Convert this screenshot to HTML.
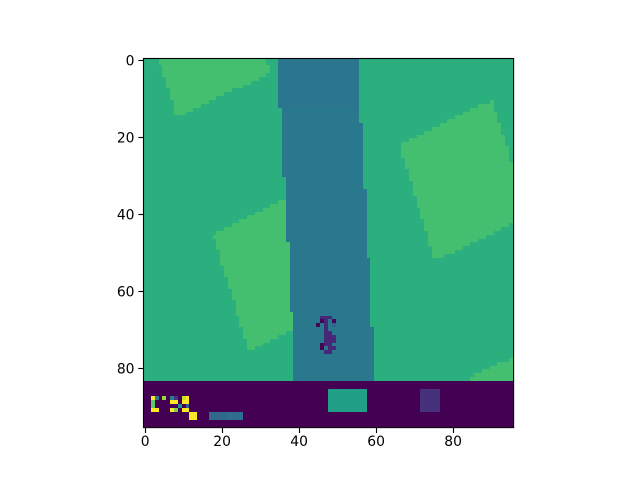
<!DOCTYPE html>
<html lang="en">
<head>
<meta charset="utf-8">
<title>Image heatmap</title>
<style>
html,body{margin:0;padding:0;background:#fff;width:640px;height:480px;overflow:hidden}
svg{display:block}
text{font-family:"DejaVu Sans","Liberation Sans",sans-serif;font-size:13.89px;fill:#000}
</style>
</head>
<body>
<svg id="chart" width="640" height="480" viewBox="0 0 640 480" xmlns="http://www.w3.org/2000/svg"></svg>
<script>
const xTickLabels = [0, 20, 40, 60, 80];
const yTickLabels = [0, 20, 40, 60, 80];
const gridSize = [96, 96];
// Each row: value, run length, value, run length ... (values on a 0-100 scale)
const imageRows = [
[63,4,70,28,63,3,39,21,63,40],
[63,4,70,28,63,3,39,21,63,40],
[63,5,70,28,63,2,39,21,63,40],
[63,5,70,28,63,2,39,21,63,40],
[63,5,70,27,63,3,39,21,63,40],
[63,6,70,24,63,5,39,21,63,40],
[63,6,70,22,63,7,39,21,63,40],
[63,6,70,20,63,9,39,21,63,40],
[63,7,70,16,63,12,39,21,63,40],
[63,7,70,14,63,14,39,21,63,40],
[63,7,70,12,63,16,39,21,63,40],
[63,8,70,9,63,18,39,21,63,34,70,1,63,5],
[63,8,70,7,63,20,39,21,63,31,70,4,63,5],
[63,8,70,5,63,23,40,20,63,29,70,6,63,5],
[63,8,70,3,63,25,40,20,63,27,70,9,63,4],
[63,36,40,20,63,25,70,11,63,4],
[63,36,40,20,63,23,70,13,63,4],
[63,36,40,21,63,20,70,16,63,3],
[63,36,40,21,63,18,70,18,63,3],
[63,36,40,21,63,16,70,20,63,3],
[63,36,40,21,63,14,70,23,63,2],
[63,36,40,21,63,12,70,25,63,2],
[63,36,40,21,63,10,70,27,63,2],
[63,36,40,21,63,10,70,28,63,1],
[63,36,40,21,63,10,70,28,63,1],
[63,36,40,21,63,10,70,28,63,1],
[63,36,40,21,63,11,70,27,63,1],
[63,36,40,21,63,11,70,28],
[63,36,40,21,63,11,70,28],
[63,36,40,21,63,12,70,27],
[63,36,40,21,63,12,70,27],
[63,37,40,20,63,12,70,27],
[63,37,40,20,63,13,70,26],
[63,37,40,20,63,13,70,26],
[63,37,40,21,63,12,70,26],
[63,37,40,21,63,12,70,26],
[63,37,40,21,63,13,70,25],
[63,35,70,2,40,21,63,13,70,25],
[63,33,70,4,40,21,63,13,70,25],
[63,31,70,6,40,21,63,14,70,24],
[63,29,70,8,40,21,63,14,70,24],
[63,27,70,10,40,21,63,14,70,24],
[63,25,70,12,40,21,63,15,70,23],
[63,23,70,14,40,21,63,15,70,22,63,1],
[63,21,70,16,40,21,63,15,70,20,63,3],
[63,19,70,18,40,21,63,16,70,17,63,5],
[63,18,70,19,40,21,63,16,70,15,63,7],
[63,19,70,18,40,21,63,16,70,13,63,9],
[63,19,70,19,40,20,63,16,70,11,63,11],
[63,19,70,19,40,20,63,17,70,8,63,13],
[63,20,70,18,40,20,63,17,70,6,63,15],
[63,20,70,18,40,20,63,17,70,3,63,18],
[63,20,70,18,40,21,63,37],
[63,20,70,18,40,21,63,37],
[63,21,70,17,40,21,63,37],
[63,21,70,17,40,21,63,37],
[63,21,70,17,40,21,63,37],
[63,22,70,16,40,21,63,37],
[63,22,70,16,40,21,63,37],
[63,22,70,16,40,21,63,37],
[63,23,70,15,40,21,63,37],
[63,23,70,15,40,21,63,37],
[63,23,70,15,40,21,63,37],
[63,24,70,14,40,21,63,37],
[63,24,70,14,40,21,63,37],
[63,24,70,14,40,21,63,37],
[63,24,70,15,40,20,63,37],
[63,25,70,14,40,7,11,3,40,10,63,37],
[63,25,70,14,40,7,1,1,11,1,40,1,1,1,40,9,63,37],
[63,25,70,14,40,6,1,1,40,1,11,1,40,1,31,1,40,9,63,37],
[63,26,70,13,40,8,11,1,40,12,63,36],
[63,26,70,11,63,2,40,8,11,2,40,11,63,36],
[63,26,70,9,63,4,40,8,11,3,40,10,63,36],
[63,27,70,6,63,6,40,8,11,3,40,10,63,36],
[63,27,70,4,63,8,40,7,1,1,11,2,40,11,63,36],
[63,27,70,2,63,10,40,7,1,1,40,1,11,2,40,10,63,36],
[63,39,40,8,11,2,40,11,63,36],
[63,39,40,21,63,36],
[63,39,40,21,63,35,70,1],
[63,39,40,21,63,32,70,4],
[63,39,40,21,63,30,70,6],
[63,39,40,21,63,28,70,8],
[63,39,40,21,63,26,70,10],
[63,39,40,21,63,25,70,11],
[0,96],
[0,96],
[0,48,56,10,0,14,14,5,0,19],
[0,48,56,10,0,14,14,5,0,19],
[0,2,100,1,40,1,0,1,85,1,0,1,42,1,14,1,0,1,92,1,100,1,0,36,56,10,0,14,14,5,0,19],
[0,2,75,1,0,4,100,2,0,1,100,2,0,36,56,10,0,14,14,5,0,19],
[0,2,75,1,0,6,50,1,0,1,30,1,0,36,56,10,0,14,14,5,0,19],
[0,2,100,2,0,3,100,1,80,1,0,1,100,2,0,36,56,10,0,14,14,5,0,19],
[0,12,100,2,0,3,34,5,36,4,0,70],
[0,12,100,2,0,3,34,5,36,4,0,70],
[0,96],
[0,96]
];

const viridisStops = ["#440154","#482475","#414487","#355f8d","#2a788e","#21918c","#22a884","#44bf70","#7ad151","#bddf26","#fde725"];
const NS = "http://www.w3.org/2000/svg";
const svg = document.getElementById("chart");
const plot = { left: 143.2, top: 57.6, width: 369.6, height: 369.6 };

function xScale(col) { return plot.left + col * plot.width / gridSize[1]; }
function yScale(row) { return plot.top + row * plot.height / gridSize[0]; }
function hexToRgb(h) { return [1, 3, 5].map(function (i) { return parseInt(h.substr(i, 2), 16); }); }
function colorFor(value) {
  const t = Math.max(0, Math.min(1, value / 100)) * (viridisStops.length - 1);
  const i = Math.min(Math.floor(t), viridisStops.length - 2);
  const a = hexToRgb(viridisStops[i]);
  const b = hexToRgb(viridisStops[i + 1]);
  const f = t - i;
  return "rgb(" + a.map(function (c, k) { return Math.round(c + (b[k] - c) * f); }).join(",") + ")";
}
function make(tag, attrs) {
  const el = document.createElementNS(NS, tag);
  for (const k in attrs) el.setAttribute(k, attrs[k]);
  return el;
}

const imageGroup = make("g", { "shape-rendering": "crispEdges" });


svg.appendChild(imageGroup);

imageRows.forEach(function (runs, row) {
  let col = 0;
  for (let i = 0; i < runs.length; i += 2) {
    const value = runs[i];
    const count = runs[i + 1];
    const x0 = Math.round(xScale(col));
    const x1 = Math.round(xScale(col + count));
    const y0 = Math.round(yScale(row));
    const y1 = Math.round(yScale(row + 1));
    const cell = make("rect", { x: x0, y: y0, width: x1 - x0, height: y1 - y0, fill: colorFor(value) });
    
    
    imageGroup.appendChild(cell);
    col += count;
  }
});

const axisGroup = make("g", {});


svg.appendChild(axisGroup);

xTickLabels.forEach(function (label) {
  const px = Math.floor(xScale(label + 0.5)) + 0.5;
  const tick = make("line", { x1: px, x2: px, y1: 427.6, y2: 433, stroke: "#000", "stroke-width": 1.11 });
  
  
  axisGroup.appendChild(tick);
  const text = make("text", { x: xScale(label + 0.5), y: 446, "text-anchor": "middle" });
  
  
  text.textContent = label;
  axisGroup.appendChild(text);
});

yTickLabels.forEach(function (label) {
  const py = Math.floor(yScale(label + 0.5)) + 1.5;
  const tick = make("line", { x1: 138.3, x2: 143.2, y1: py, y2: py, stroke: "#000", "stroke-width": 1.11 });
  
  
  axisGroup.appendChild(tick);
  const text = make("text", { x: 134.5, y: yScale(label + 0.5) + 6, "text-anchor": "end" });
  
  
  text.textContent = label;
  axisGroup.appendChild(text);
});

const frame = make("rect", {
  x: 143.5,
  y: 58.5,
  width: 370.1,
  height: 369.1,
  fill: "none",
  stroke: "#000",
  "stroke-width": 1.11
});


axisGroup.appendChild(frame);
</script>
</body>
</html>
